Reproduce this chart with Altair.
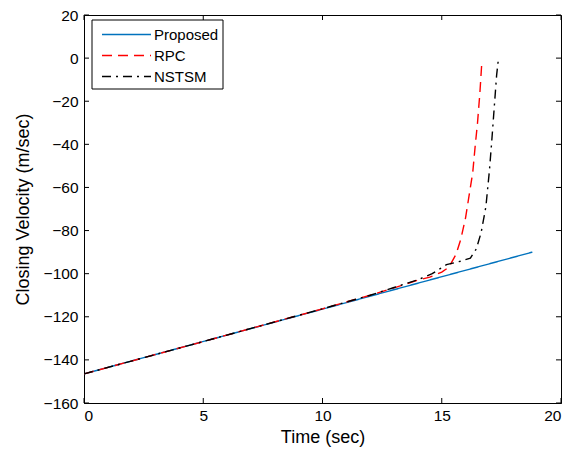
import altair as alt
import pandas as pd

# ---------------- data ----------------
prop_t = [0.0, 18.8]
prop_v = [-146.5, -90.0]

rpc_t = [0.0, 5.0, 10.0, 12.0, 13.0, 14.0, 14.5, 15.0, 15.3, 15.6, 15.8, 16.0, 16.2, 16.3, 16.4, 16.5, 16.6, 16.68]
rpc_v = [-146.5, -131.5, -116.3, -110.0, -106.6, -103.0, -101.6, -99.3, -97.0, -91.0, -84.0, -74.0, -60.0, -53.0, -41.0, -30.0, -16.0, -2.0]

nstsm_t = [0.0, 5.0, 10.0, 12.0, 13.0, 14.0, 14.6, 15.2, 15.8, 16.2, 16.45, 16.65, 16.85, 17.0, 17.1, 17.2, 17.3, 17.38]
nstsm_v = [-146.5, -131.5, -116.3, -110.0, -106.4, -102.8, -100.0, -95.8, -94.2, -92.8, -88.5, -81.0, -69.0, -52.0, -38.0, -23.0, -8.0, 0.0]

series_names = ["Proposed", "RPC", "NSTSM"]
series_colors = ["#0072BD", "#FF0000", "#000000"]
series_dash = [[1, 0], [10, 6], [9, 5, 2, 5]]

x_ticks = [0, 5, 10, 15, 20]
y_ticks = [-160, -140, -120, -100, -80, -60, -40, -20, 0, 20]

W, H = 477, 388
FONT = "Liberation Sans"

rows = []
for name, ts, vs in [("Proposed", prop_t, prop_v), ("RPC", rpc_t, rpc_v), ("NSTSM", nstsm_t, nstsm_v)]:
    for i, (t, v) in enumerate(zip(ts, vs)):
        rows.append({"series": name, "t": t, "v": v, "i": i})
df = pd.DataFrame(rows)

xs = alt.Scale(domain=[0, 20], nice=False, zero=False)
ys = alt.Scale(domain=[-160, 20], nice=False, zero=False)
cs = alt.Scale(domain=series_names, range=series_colors)
ds = alt.Scale(domain=series_names, range=series_dash)

x_axis = alt.Axis(values=x_ticks, ticks=False, grid=False, labelPadding=5, titlePadding=5)
y_axis = alt.Axis(values=y_ticks, ticks=False, grid=False, labelPadding=6, titlePadding=11)

def X():
    return alt.X("t:Q", scale=xs, title="Time (sec)", axis=x_axis)

def Y():
    return alt.Y("v:Q", scale=ys, title="Closing Velocity (m/sec)", axis=y_axis)

lines = alt.Chart(df).mark_line(strokeWidth=1.4, clip=True).encode(
    x=X(), y=Y(),
    color=alt.Color("series:N", scale=cs, legend=None),
    strokeDash=alt.StrokeDash("series:N", scale=ds, legend=None),
    order="i:Q",
)

xt = pd.DataFrame({"t": x_ticks})
yt = pd.DataFrame({"v": y_ticks})
xtick_b = alt.Chart(xt).mark_rule(color="black", strokeWidth=1).encode(
    x=X(), y=alt.value(H), y2=alt.value(H - 5))
xtick_t = alt.Chart(xt).mark_rule(color="black", strokeWidth=1).encode(
    x=X(), y=alt.value(0), y2=alt.value(5))
ytick_l = alt.Chart(yt).mark_rule(color="black", strokeWidth=1).encode(
    y=Y(), x=alt.value(0), x2=alt.value(5))
ytick_r = alt.Chart(yt).mark_rule(color="black", strokeWidth=1).encode(
    y=Y(), x=alt.value(W), x2=alt.value(W - 5))

# legend (manual, box style)
leg = pd.DataFrame({"series": series_names, "py": [19.5, 40.5, 61.5]})
box = alt.Chart(pd.DataFrame({"a": [0]})).mark_rect(fill="white", stroke="black", strokeWidth=1).encode(
    x=alt.value(8), x2=alt.value(139), y=alt.value(5), y2=alt.value(74))
leg_lines = alt.Chart(leg).mark_rule(strokeWidth=1.4).encode(
    x=alt.value(18), x2=alt.value(67),
    y=alt.Y("py:Q", scale=None),
    color=alt.Color("series:N", scale=cs, legend=None),
    strokeDash=alt.StrokeDash("series:N", scale=ds, legend=None),
)
leg_text = alt.Chart(leg).mark_text(align="left", baseline="middle", font=FONT, fontSize=15, color="black").encode(
    x=alt.value(70), y=alt.Y("py:Q", scale=None), text="series:N")

chart = alt.layer(lines, xtick_b, xtick_t, ytick_l, ytick_r, box, leg_lines, leg_text).properties(
    width=W, height=H,
    padding={"left": 76, "top": 7, "right": 12, "bottom": 45},
    autosize=alt.AutoSizeParams(type="none"),
    background="white",
).configure_view(
    stroke="black", strokeWidth=1
).configure_axis(
    domainColor="black", domainWidth=1, labelColor="black", titleColor="black",
    labelFont=FONT, titleFont=FONT, labelFontSize=15.5, titleFontSize=18, titleFontWeight="normal",
)

chart.save("out.html", embed_options={"renderer": "svg", "actions": False})
